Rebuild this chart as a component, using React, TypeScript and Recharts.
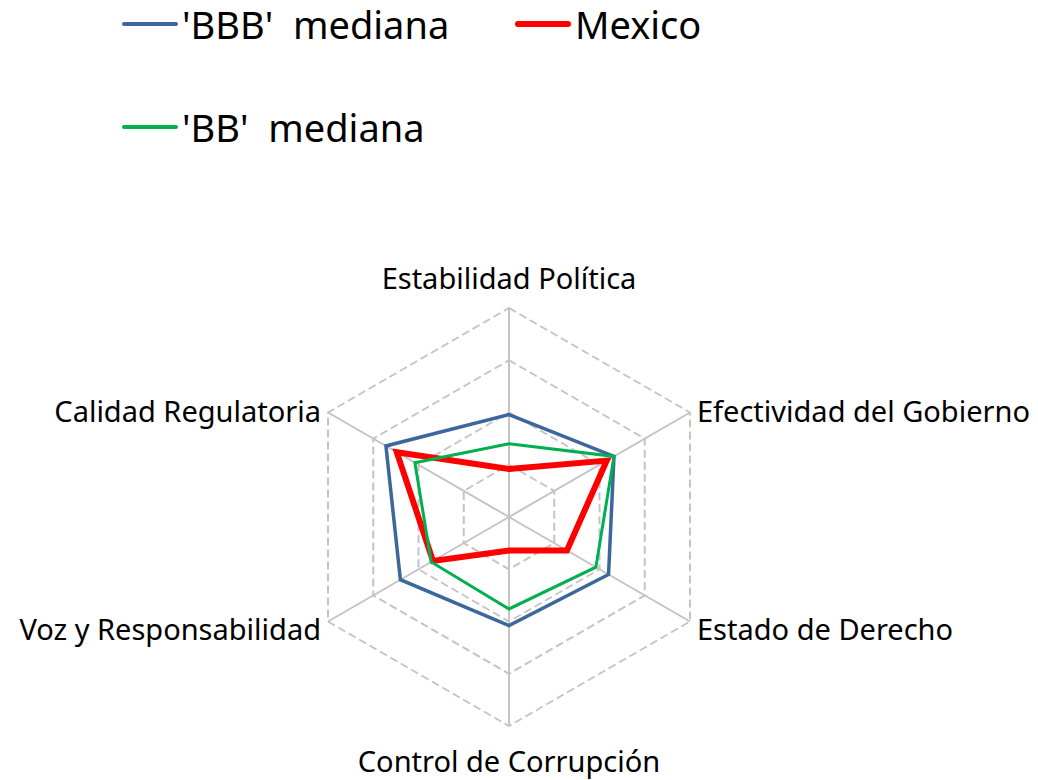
import { Legend, PolarAngleAxis, PolarGrid, PolarRadiusAxis, Radar, RadarChart } from "recharts";

const categories = [
  "Estabilidad Política",
  "Efectividad del Gobierno",
  "Estado de Derecho",
  "Control de Corrupción",
  "Voz y Responsabilidad",
  "Calidad Regulatoria",
];
const bbbMediana = [49, 58, 55, 52, 60, 68];
const mexico = [23, 54, 32, 16, 42, 62];
const bbMediana = [35, 58, 48, 44, 43, 52];

const seriesNames = ["'BBB'  mediana", "Mexico", "'BB'  mediana"];

const data = categories.map((c, i) => ({
  name: c,
  bbb: bbbMediana[i],
  mex: mexico[i],
  bb: bbMediana[i],
}));

const FONT = "'Noto Sans', 'Open Sans', sans-serif";
const R = 209;

// legend items placed like the Excel original (2 columns, wrapped)
const legendItems = [
  { label: seriesNames[0], color: "#3c679c", w: 4, left: 114, top: 16 },
  { label: seriesNames[1], color: "#ff0000", w: 6, left: 507, top: 16 },
  { label: seriesNames[2], color: "#00b050", w: 4, left: 114, top: 119 },
];

function LegendBox() {
  return (
    <div style={{ position: "relative", width: 1030, height: 160, fontFamily: FONT }}>
      {legendItems.map((it) => (
        <div
          key={it.label}
          style={{ position: "absolute", left: it.left, top: it.top - 24, display: "flex", alignItems: "center", height: 48 }}
        >
          <div style={{ width: 56, height: it.w, background: it.color, borderRadius: 3 }} />
          <span style={{ fontSize: 38, color: "#000", whiteSpace: "pre", marginLeft: 4, lineHeight: "48px" }}>
            {it.label}
          </span>
        </div>
      ))}
    </div>
  );
}

function AngleTick(props: any) {
  const { cx, cy, payload } = props;
  const a = (payload.coordinate * Math.PI) / 180;
  const cos = Math.cos(a);
  const sin = Math.sin(a);
  const vx = cx + R * cos;
  const vy = cy - R * sin;
  let x = vx;
  let y = vy;
  let anchor = "middle";
  if (Math.abs(cos) < 0.01) {
    y = sin > 0 ? vy - 31 : vy + 34;
  } else {
    anchor = cos > 0 ? "start" : "end";
    x = cos > 0 ? vx + 7 : vx - 7;
    y = sin > 0 ? vy - 2 : vy + 7;
  }
  return (
    <text x={x} y={y} textAnchor={anchor} dominantBaseline="central" fontSize={29} fill="#000" fontFamily={FONT}>
      {payload.value}
    </text>
  );
}

export default function App() {
  return (
    <RadarChart width={1030} height={772} data={data} cx={501} cy={509} outerRadius={R}>
      <Legend verticalAlign="top" align="left" wrapperStyle={{ top: 0, left: 0 }} content={() => <LegendBox />} />
      <PolarGrid gridType="polygon" radialLines={false} stroke="#c4c4c4" strokeWidth={2} strokeDasharray="8 4" />
      <PolarGrid gridType="polygon" polarRadius={[]} stroke="#c4c4c4" strokeWidth={2} />
      <PolarRadiusAxis domain={[0, 100]} tickCount={5} tick={false} axisLine={false} />
      <PolarAngleAxis dataKey="name" tick={<AngleTick />} tickLine={false} axisLine={false} />
      <Radar name={seriesNames[0]} dataKey="bbb" stroke="#3c679c" strokeWidth={3.5} fill="none" dot={false} isAnimationActive={false} />
      <Radar name={seriesNames[1]} dataKey="mex" stroke="#ff0000" strokeWidth={6} fill="none" dot={false} isAnimationActive={false} />
      <Radar name={seriesNames[2]} dataKey="bb" stroke="#00b050" strokeWidth={3} fill="none" dot={false} isAnimationActive={false} />
    </RadarChart>
  );
}
